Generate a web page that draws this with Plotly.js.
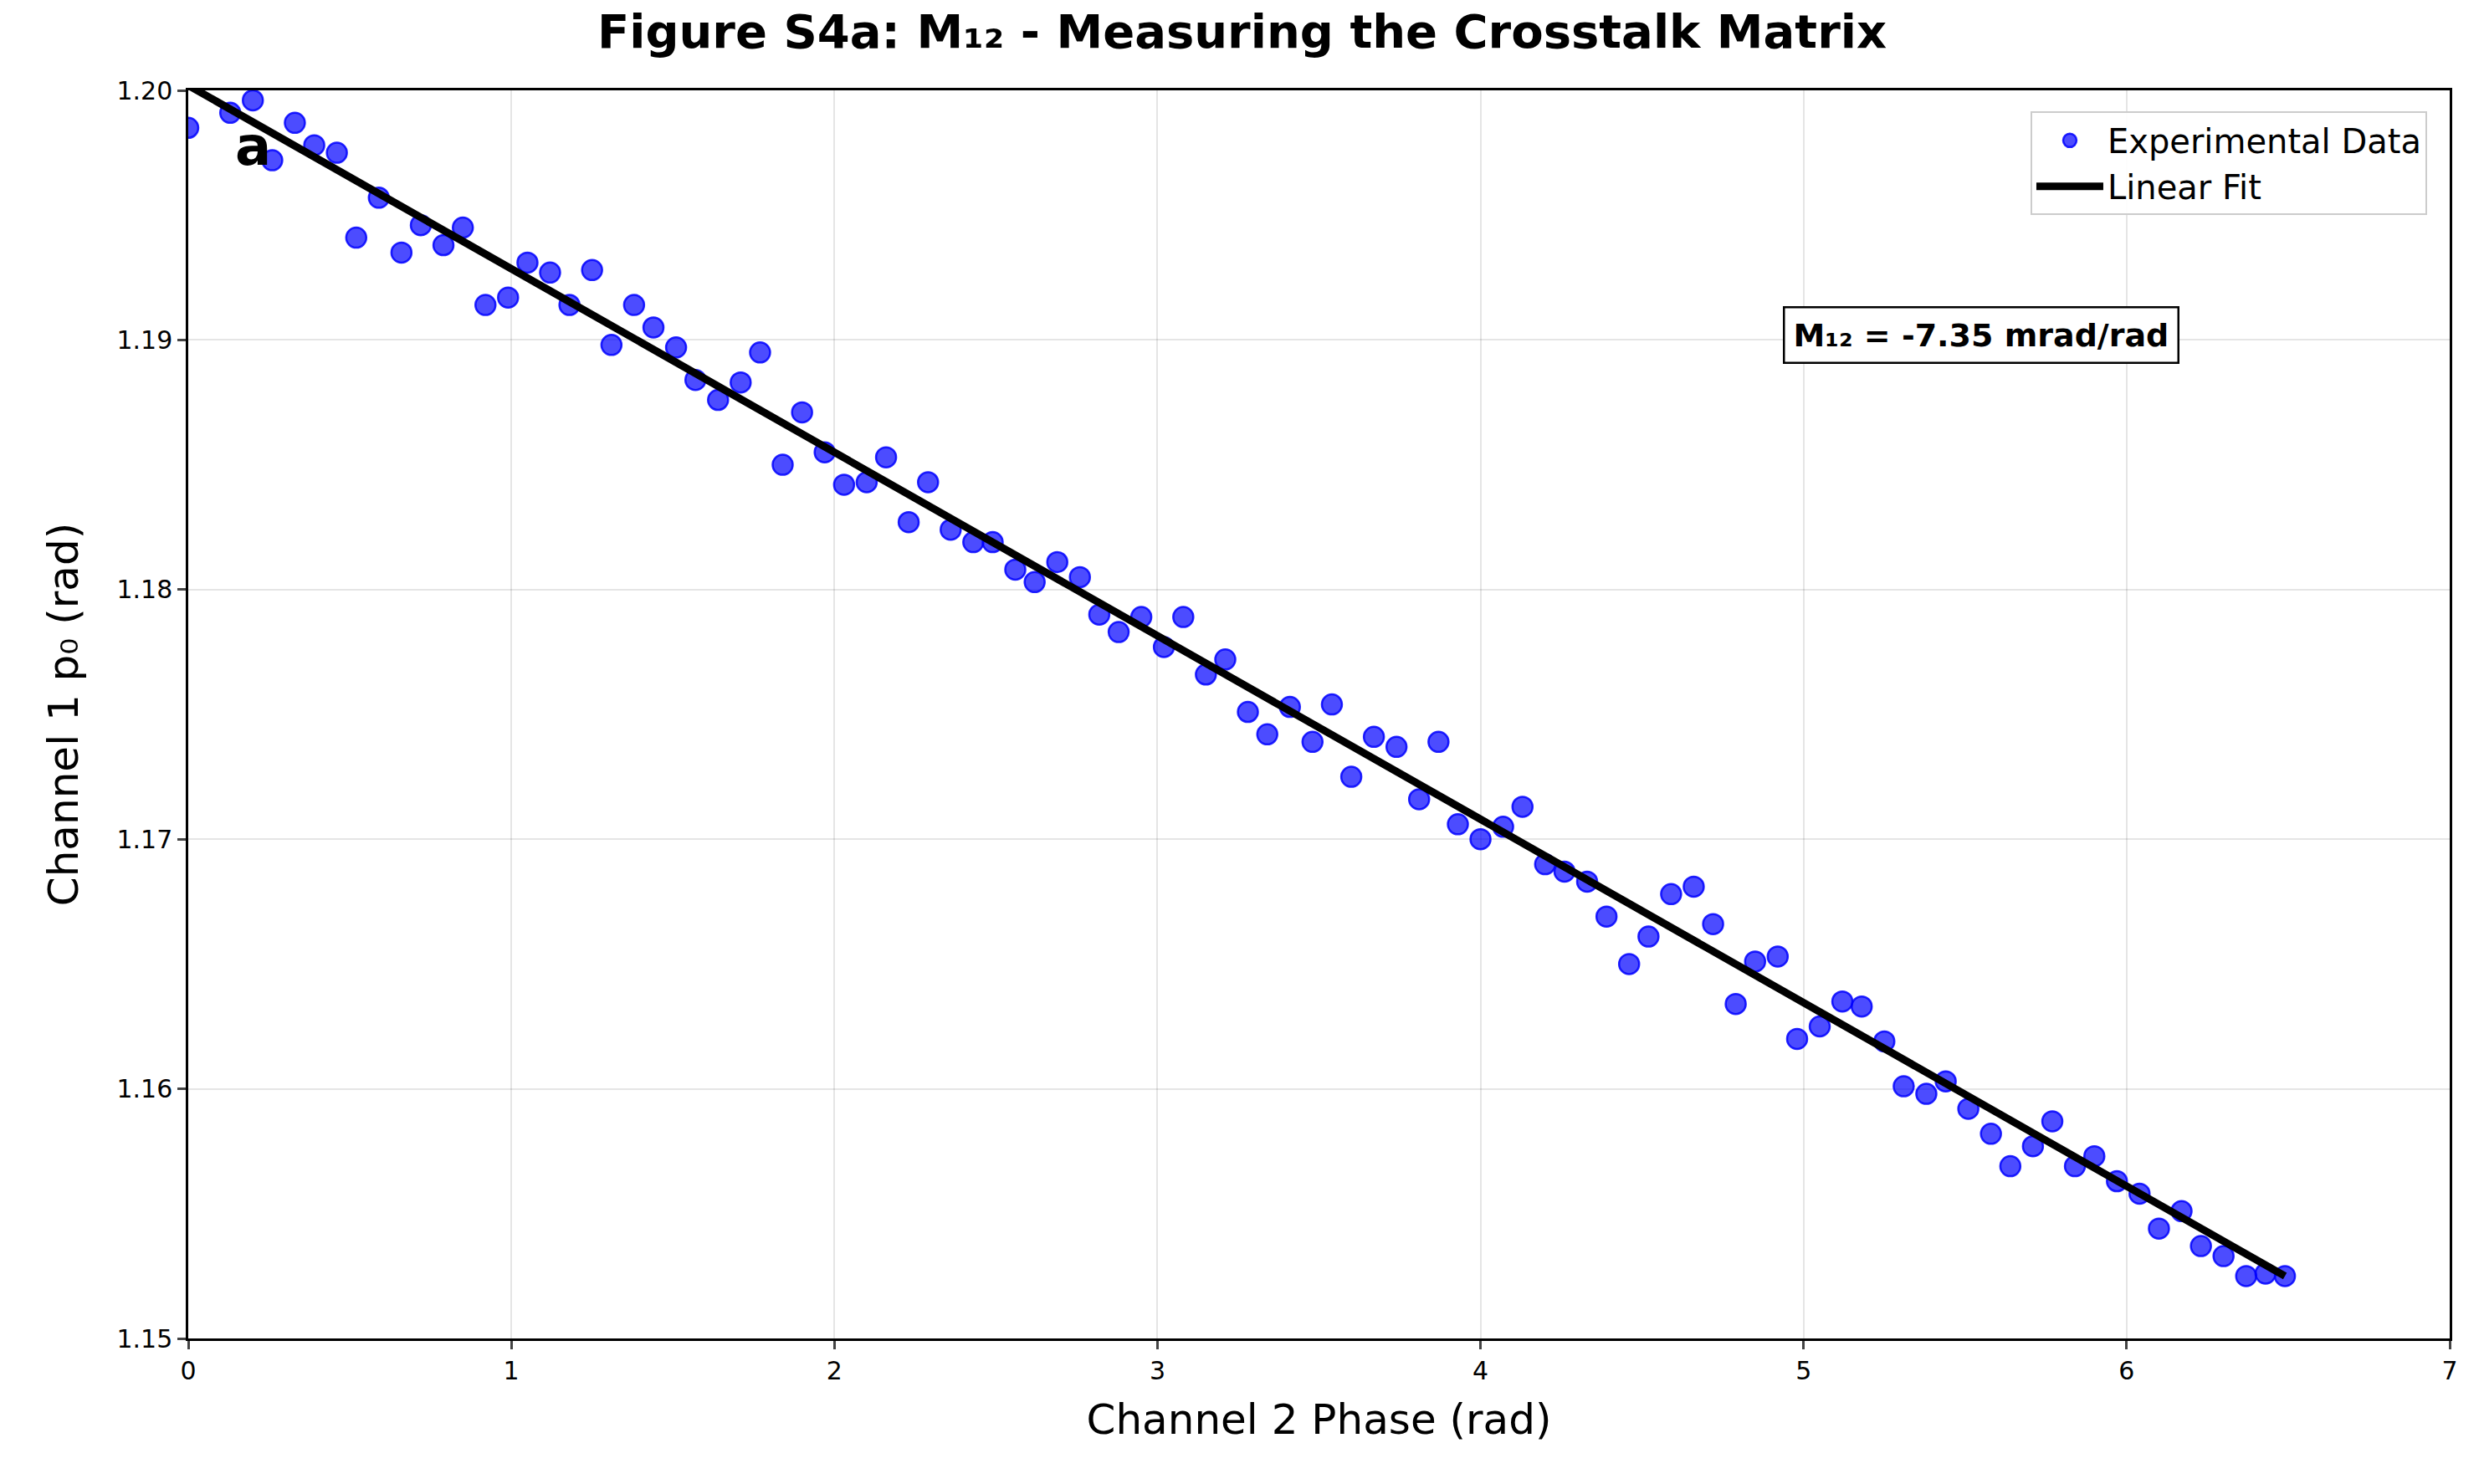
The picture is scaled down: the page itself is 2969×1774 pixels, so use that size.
<!DOCTYPE html>
<html><head><meta charset="utf-8">
<script src="https://cdn.plot.ly/plotly-3.0.1.min.js"></script>
<style>body{margin:0;background:#fff}</style></head>
<body><div id="chart" style="width:2969px;height:1774px"></div>
<script>
const phase = [0.00,0.13,0.20,0.26,0.33,0.39,0.46,0.52,0.59,0.66,0.72,0.79,0.85,0.92,0.99,1.05,1.12,1.18,1.25,1.31,1.38,1.44,1.51,1.57,1.64,1.71,1.77,1.84,1.90,1.97,2.03,2.10,2.16,2.23,2.29,2.36,2.43,2.49,2.56,2.62,2.69,2.76,2.82,2.88,2.95,3.02,3.08,3.15,3.21,3.28,3.34,3.41,3.48,3.54,3.60,3.67,3.74,3.81,3.87,3.93,4.00,4.07,4.13,4.20,4.26,4.33,4.39,4.46,4.52,4.59,4.66,4.72,4.79,4.85,4.92,4.98,5.05,5.12,5.18,5.25,5.31,5.38,5.44,5.51,5.58,5.64,5.71,5.77,5.84,5.90,5.97,6.04,6.10,6.17,6.23,6.30,6.37,6.43,6.49];
const p0 = [1.1985,1.1991,1.1996,1.1972,1.1987,1.1978,1.1975,1.1941,1.1957,1.1935,1.1946,1.1938,1.1945,1.1914,1.1917,1.1931,1.1927,1.1914,1.1928,1.1898,1.1914,1.1905,1.1897,1.1884,1.1876,1.1883,1.1895,1.1850,1.1871,1.1855,1.1842,1.1843,1.1853,1.1827,1.1843,1.1824,1.1819,1.1819,1.1808,1.1803,1.1811,1.1805,1.1790,1.1783,1.1789,1.1777,1.1789,1.1766,1.1772,1.1751,1.1742,1.1753,1.1739,1.1754,1.1725,1.1741,1.1737,1.1716,1.1739,1.1706,1.1700,1.1705,1.1713,1.1690,1.1687,1.1683,1.1669,1.1650,1.1661,1.1678,1.1681,1.1666,1.1634,1.1651,1.1653,1.1620,1.1625,1.1635,1.1633,1.1619,1.1601,1.1598,1.1603,1.1592,1.1582,1.1569,1.1577,1.1587,1.1569,1.1573,1.1563,1.1558,1.1544,1.1551,1.1537,1.1533,1.1525,1.1526,1.1525];
const fitIntercept = 1.2002;
const fitSlope = -0.00735;
const fitX = [phase[0], phase[phase.length-1]];
const fitY = fitX.map(x => fitIntercept + fitSlope*x);
const xTicks = [0,1,2,3,4,5,6,7];
const yTicks = [1.15,1.16,1.17,1.18,1.19,1.20];

const traces = [
 {x: phase, y: p0, type:'scatter', mode:'markers', name:'Experimental Data',
  marker:{size:24, color:'rgba(0,0,255,0.7)', line:{color:'rgba(0,0,255,0.85)', width:2.5}}},
 {x: fitX, y: fitY, type:'scatter', mode:'lines', name:'Linear Fit',
  line:{color:'black', width:9}}
];
const layout = {
 width:2969, height:1774, paper_bgcolor:'white', plot_bgcolor:'white',
 margin:{l:225, r:41, t:108, b:174},
 font:{family:'DejaVu Sans', color:'black'},
 title:{text:'<b>Figure S4a: M₁₂ - Measuring the Crosstalk Matrix</b>', font:{size:56, family:'DejaVu Sans'}, x:0.5, xanchor:'center', y:0.99, yanchor:'top'},
 xaxis:{range:[0,7], tickvals:xTicks, ticktext:xTicks.map(String), showgrid:true, gridcolor:'rgba(0,0,0,0.1)', gridwidth:2,
   showline:true, mirror:true, linecolor:'black', linewidth:2.5, ticks:'outside', ticklen:10, tickwidth:2.5, zeroline:false,
   tickfont:{size:30}, title:{text:'Channel 2 Phase (rad)', font:{size:50}, standoff:25}},
 yaxis:{range:[1.15,1.20], tickvals:yTicks, ticktext:yTicks.map(v=>v.toFixed(2)), showgrid:true, gridcolor:'rgba(0,0,0,0.1)', gridwidth:2,
   showline:true, mirror:true, linecolor:'black', linewidth:2.5, ticks:'outside', ticklen:10, tickwidth:2.5, zeroline:false,
   tickfont:{size:30}, title:{text:'Channel 1 p₀ (rad)', font:{size:50}, standoff:30}},
 showlegend:true,
 legend:{x:0.99, xanchor:'right', y:0.983, yanchor:'top', bgcolor:'rgba(255,255,255,0.9)', bordercolor:'#cccccc', borderwidth:2,
   font:{size:40}, itemwidth:80, tracegroupgap:10},
 annotations:[
  {text:'<b>a</b>', x:0.02, y:0.955, xref:'paper', yref:'paper', showarrow:false, font:{size:64, color:'black'}, xanchor:'left', yanchor:'middle'},
  {text:'<b>M₁₂ = -7.35 mrad/rad</b>', x:5.55, y:1.1902, xref:'x', yref:'y', showarrow:false, font:{size:38},
   bgcolor:'white', bordercolor:'black', borderwidth:2.5, borderpad:10}
 ]
};
Plotly.newPlot('chart', traces, layout, {displayModeBar:false});
</script></body></html>
